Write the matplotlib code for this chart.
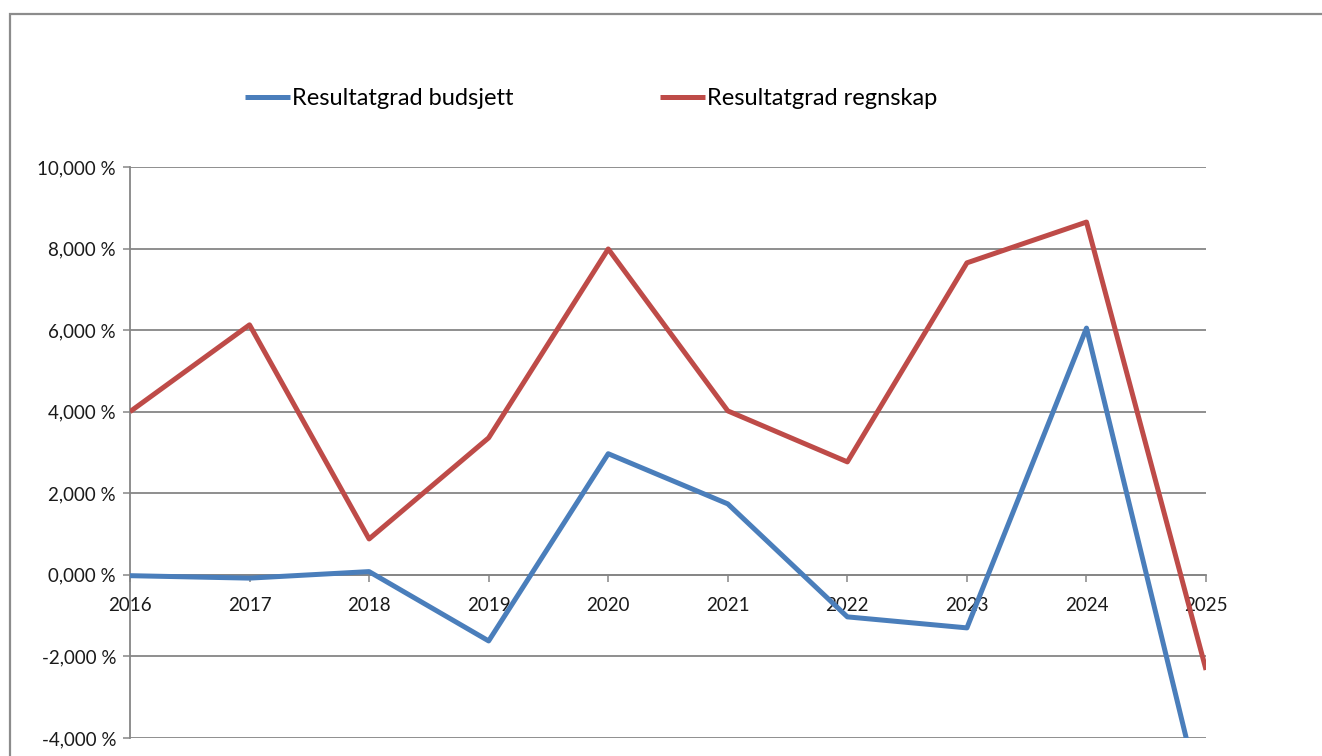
import matplotlib
matplotlib.use("Agg")
import matplotlib.pyplot as plt
from matplotlib.patches import Rectangle
from matplotlib.ticker import FuncFormatter

plt.rcParams['font.family'] = ['Lato', 'DejaVu Sans']

years = [2016, 2017, 2018, 2019, 2020, 2021, 2022, 2023, 2024, 2025]
budsjett = [-0.02, -0.08, 0.08, -1.62, 2.97, 1.74, -1.03, -1.30, 6.05, -6.0]
regnskap = [4.0, 6.13, 0.88, 3.36, 7.99, 4.02, 2.77, 7.65, 8.65, -2.33]
y_ticks = [-4, -2, 0, 2, 4, 6, 8, 10]

blue = '#4A7EBB'
red = '#BE4B48'
grey = '#868686'

fig = plt.figure(figsize=(13.22, 7.56), dpi=100)
ax = fig.add_axes([0.0983, 0.0238, 0.814, 0.7553])

# outer chart frame, runs off the right and bottom edges
fig.patches.append(Rectangle((0.0076, -0.1), 1.2, 0.1 + 0.9815, transform=fig.transFigure,
                             fill=False, edgecolor='#8c8c8c', linewidth=1.6))

ax.plot(years, budsjett, color=blue, linewidth=3.6, label='Resultatgrad budsjett',
        solid_capstyle='butt', zorder=3)
ax.plot(years, regnskap, color=red, linewidth=3.6, label='Resultatgrad regnskap',
        solid_capstyle='butt', zorder=3)

ax.set_xlim(2016, 2025)
ax.set_ylim(-4, 10)
ax.set_yticks(y_ticks)
ax.set_xticks(years)
ax.yaxis.set_major_formatter(FuncFormatter(lambda v, p: f"{v:.3f}".replace('.', ',') + ' %'))

ax.grid(axis='y', color=grey, linewidth=1.3)
ax.set_axisbelow(True)
for s in ['top', 'right']:
    ax.spines[s].set_visible(False)
ax.spines['left'].set_color(grey)
ax.spines['left'].set_linewidth(1.3)
ax.spines['bottom'].set_position(('data', 0))
ax.spines['bottom'].set_color(grey)
ax.spines['bottom'].set_linewidth(1.3)
ax.spines['bottom'].set_zorder(2)

ax.tick_params(axis='y', length=5, width=1.1, color=grey, pad=5, labelsize=13.5, labelcolor='#1a1a1a')
ax.tick_params(axis='x', direction='out', length=5, width=1.1, color=grey, pad=11,
               labelsize=13.5, labelcolor='#1a1a1a')

fig.legend(loc='center', bbox_to_anchor=(0.447, 0.870), ncol=2, frameon=False,
           fontsize=17, handlelength=1.9, handletextpad=0.1, columnspacing=6.2)

fig.savefig('out.png', dpi=100)
